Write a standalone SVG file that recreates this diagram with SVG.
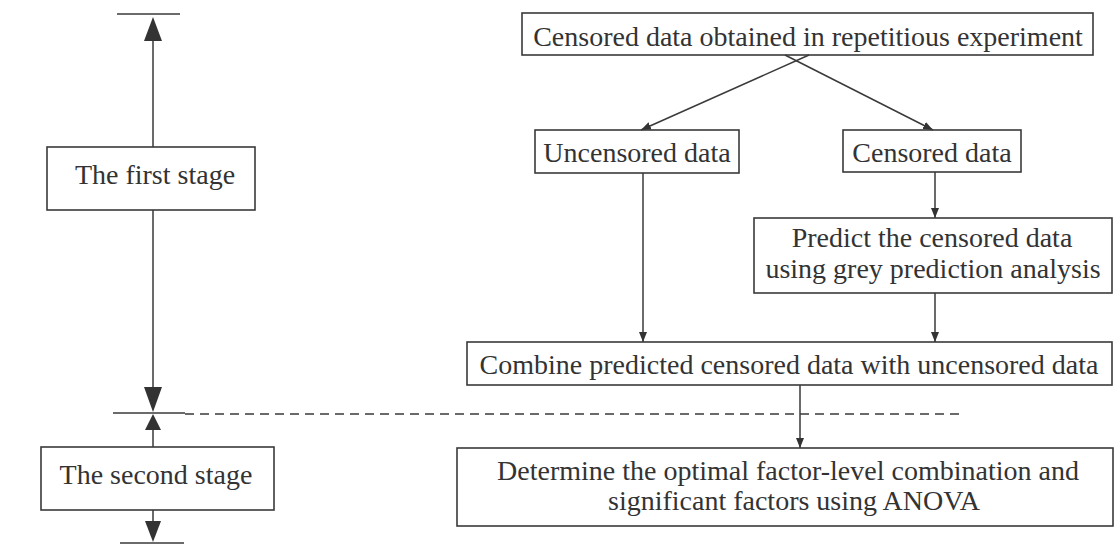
<svg xmlns="http://www.w3.org/2000/svg" width="1114" height="545" viewBox="0 0 1114 545">
<defs>
<style>
.box{fill:none;stroke:#3a3a3a;stroke-width:1.6}
.t{font-family:"Liberation Serif","Times New Roman",serif;font-size:28px;fill:#333;text-anchor:middle}
.ln{fill:none;stroke:#3a3a3a;stroke-width:1.5}
.big{fill:#333;stroke:none}
</style>
<marker id="ah" viewBox="0 0 10 10" refX="10" refY="5" markerWidth="10" markerHeight="10" markerUnits="userSpaceOnUse" orient="auto">
<path d="M0,1 L10,5 L0,9 Z" fill="#333"/>
</marker>
</defs>
<rect width="1114" height="545" fill="#ffffff"/>

<g id="connectors">
<line class="ln" x1="809" y1="55" x2="641" y2="130" marker-end="url(#ah)"/>
<line class="ln" x1="785" y1="55" x2="933" y2="130" marker-end="url(#ah)"/>
<line class="ln" x1="643" y1="173" x2="643" y2="342" marker-end="url(#ah)"/>
<line class="ln" x1="935" y1="172" x2="935" y2="218" marker-end="url(#ah)"/>
<line class="ln" x1="935" y1="293" x2="935" y2="342" marker-end="url(#ah)"/>
<line class="ln" x1="800" y1="385" x2="800" y2="448" marker-end="url(#ah)"/>
</g>

<g id="stage-axis">
<line class="ln" x1="117" y1="14" x2="180" y2="14"/>
<polygon class="big" points="153,17 144,41 162,41"/>
<line class="ln" x1="153" y1="41" x2="153" y2="147"/>
<line class="ln" x1="153" y1="210" x2="153" y2="388"/>
<polygon class="big" points="153,412 144,387 162,387"/>
<line class="ln" x1="113" y1="413" x2="185" y2="413"/>
<polygon class="big" points="153,414 145,430 161,430"/>
<line class="ln" x1="153" y1="430" x2="153" y2="447"/>
<line class="ln" x1="153" y1="510" x2="153" y2="522"/>
<polygon class="big" points="153,542 145,521 161,521"/>
<line class="ln" x1="120" y1="543" x2="184" y2="543"/>
<line class="ln" x1="185" y1="414" x2="960" y2="414" stroke-dasharray="9,6"/>
</g>

<g id="n-first-stage">
<rect class="box" x="47" y="147" width="208" height="63"/>
<text class="t" x="155" y="184">The first stage</text>
</g>
<g id="n-second-stage">
<rect class="box" x="41" y="447" width="233" height="63"/>
<text class="t" x="156" y="484">The second stage</text>
</g>
<g id="n-censored-experiment">
<rect class="box" x="522" y="13" width="571" height="42"/>
<text class="t" x="808" y="46">Censored data obtained in repetitious experiment</text>
</g>
<g id="n-uncensored">
<rect class="box" x="535" y="130" width="204" height="43"/>
<text class="t" x="637" y="162">Uncensored data</text>
</g>
<g id="n-censored">
<rect class="box" x="843" y="130" width="178" height="42"/>
<text class="t" x="932" y="162">Censored data</text>
</g>
<g id="n-predict">
<rect class="box" x="754" y="218" width="358" height="75"/>
<text class="t" x="932" y="247">Predict the censored data</text>
<text class="t" x="933" y="278">using grey prediction analysis</text>
</g>
<g id="n-combine">
<rect class="box" x="467" y="342" width="645" height="43"/>
<text class="t" x="789" y="374">Combine predicted censored data with uncensored data</text>
</g>
<g id="n-determine">
<rect class="box" x="457" y="448" width="656" height="78"/>
<text class="t" x="788" y="480">Determine the optimal factor-level combination and</text>
<text class="t" x="794" y="510">significant factors using ANOVA</text>
</g>
</svg>
